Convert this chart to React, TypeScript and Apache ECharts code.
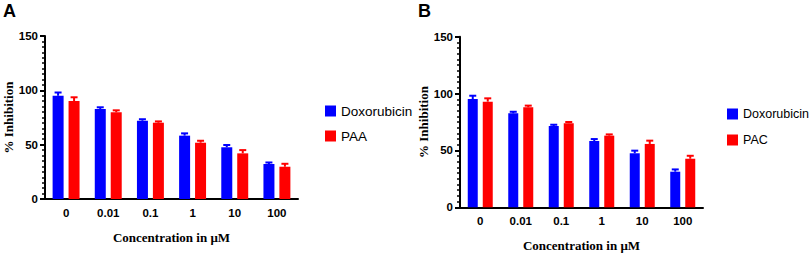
import React, { useEffect, useRef } from "react";
import * as echarts from "echarts";

const categories = ["0", "0.01", "0.1", "1", "10", "100"];
const doxA = [95, 82.8, 72, 58.3, 47.6, 32.2];
const doxAErr = [98, 84.4, 73.4, 60.4, 49.7, 33.6];
const paaA = [90.2, 79.8, 70.2, 51.8, 42, 29.7];
const paaAErr = [93.6, 81.6, 71.4, 53.6, 45, 32.4];
const doxB = [95.2, 82.6, 71.5, 58.3, 47.5, 31.3];
const doxBErr = [98.1, 84, 72.6, 60, 49.8, 33.3];
const pacB = [92.9, 87.9, 73.9, 63, 55.7, 42.7];
const pacBErr = [95.8, 89.4, 75, 64.1, 58.6, 45.3];
const yTicks = [0, 50, 100, 150];

const BLUE = "#0000FF";
const RED = "#FF0000";

function errSeries(
  name: string,
  axisIndex: number,
  vals: number[],
  errs: number[],
  offset: number,
  color: string
) {
  return {
    type: "custom",
    name,
    xAxisIndex: axisIndex,
    yAxisIndex: axisIndex,
    z: 3,
    data: vals.map((v, i) => [i, errs[i], v]),
    renderItem: (_p: any, api: any) => {
      const top = api.coord([api.value(0), api.value(1)]);
      const base = api.coord([api.value(0), api.value(2)]);
      const x = top[0] + offset;
      return {
        type: "group",
        children: [
          {
            type: "line",
            shape: { x1: x, y1: base[1], x2: x, y2: top[1] },
            style: { stroke: color, lineWidth: 2 },
          },
          {
            type: "line",
            shape: { x1: x - 3.5, y1: top[1], x2: x + 3.5, y2: top[1] },
            style: { stroke: color, lineWidth: 2 },
          },
        ],
      };
    },
  };
}

function xAxisOpt(gridIndex: number) {
  return {
    type: "category",
    gridIndex,
    data: categories,
    name: "Concentration in μM",
    nameLocation: "middle",
    nameGap: 32,
    nameTextStyle: {
      fontFamily: "Liberation Serif",
      fontWeight: "bold",
      fontSize: 13,
      color: "#000",
    },
    axisLine: { lineStyle: { color: "#000", width: 2 } },
    axisTick: { alignWithLabel: true, length: 4, lineStyle: { color: "#000", width: 2 } },
    axisLabel: {
      margin: 8,
      fontFamily: "Liberation Sans",
      fontWeight: "bold",
      fontSize: 11.5,
      color: "#000",
    },
  };
}

function yAxisOpt(gridIndex: number) {
  return {
    type: "value",
    gridIndex,
    min: yTicks[0],
    max: yTicks[yTicks.length - 1],
    interval: 50,
    name: "% Inhibition",
    nameLocation: "middle",
    nameGap: 30,
    nameTextStyle: {
      fontFamily: "Liberation Serif",
      fontWeight: "bold",
      fontSize: 13,
      color: "#000",
    },
    splitLine: { show: false },
    axisLine: { show: true, lineStyle: { color: "#000", width: 2 } },
    axisTick: { show: true, length: 5, lineStyle: { color: "#000", width: 2 } },
    minorTick: { show: true, splitNumber: 10, length: 3, lineStyle: { color: "#000", width: 1.5 } },
    axisLabel: {
      margin: 7,
      fontFamily: "Liberation Sans",
      fontWeight: "bold",
      fontSize: 11.5,
      color: "#000",
    },
  };
}

export default function App() {
  const ref = useRef<HTMLDivElement>(null);
  useEffect(() => {
    if (!ref.current) return;
    const chart = echarts.init(ref.current, undefined, { renderer: "svg" });
    chart.setOption({
      animation: false,
      backgroundColor: "#fff",
      graphic: [
        {
          type: "text",
          left: 3,
          top: 2,
          style: { text: "A", font: "bold 18px Liberation Sans", fill: "#000" },
        },
        {
          type: "text",
          left: 418,
          top: 2,
          style: { text: "B", font: "bold 18px Liberation Sans", fill: "#000" },
        },
      ],
      legend: [
        {
          data: ["Doxorubicin", "PAA"],
          orient: "vertical",
          left: 320,
          top: 99,
          itemWidth: 11,
          itemHeight: 11,
          itemGap: 11,
          icon: "rect",
          selectedMode: false,
          textStyle: { fontFamily: "Liberation Sans", fontSize: 13.5, color: "#000" },
        },
        {
          data: ["Doxorubicin", "PAC"],
          orient: "vertical",
          left: 722,
          top: 102.5,
          itemWidth: 11,
          itemHeight: 11,
          itemGap: 13,
          icon: "rect",
          selectedMode: false,
          textStyle: { fontFamily: "Liberation Sans", fontSize: 12.5, color: "#000" },
        },
      ],
      grid: [
        { left: 45, top: 36, width: 253, height: 163 },
        { left: 460, top: 36.7, width: 243, height: 170.6 },
      ],
      xAxis: [xAxisOpt(0), xAxisOpt(1)],
      yAxis: [yAxisOpt(0), yAxisOpt(1)],
      series: [
        {
          type: "bar",
          name: "Doxorubicin",
          xAxisIndex: 0,
          yAxisIndex: 0,
          data: doxA,
          barWidth: 11,
          barGap: "45%",
          itemStyle: { color: BLUE },
        },
        {
          type: "bar",
          name: "PAA",
          xAxisIndex: 0,
          yAxisIndex: 0,
          data: paaA,
          barWidth: 11,
          barGap: "45%",
          itemStyle: { color: RED },
        },
        errSeries("errDoxA", 0, doxA, doxAErr, -8, BLUE),
        errSeries("errPaaA", 0, paaA, paaAErr, 8, RED),
        {
          type: "bar",
          name: "Doxorubicin",
          xAxisIndex: 1,
          yAxisIndex: 1,
          data: doxB,
          barWidth: 10,
          barGap: "50%",
          itemStyle: { color: BLUE },
        },
        {
          type: "bar",
          name: "PAC",
          xAxisIndex: 1,
          yAxisIndex: 1,
          data: pacB,
          barWidth: 10,
          barGap: "50%",
          itemStyle: { color: RED },
        },
        errSeries("errDoxB", 1, doxB, doxBErr, -7.5, BLUE),
        errSeries("errPacB", 1, pacB, pacBErr, 7.5, RED),
      ],
    });
    return () => chart.dispose();
  }, []);
  return <div ref={ref} style={{ width: 809, height: 258, position: "absolute", left: 0, top: 0 }} />;
}
